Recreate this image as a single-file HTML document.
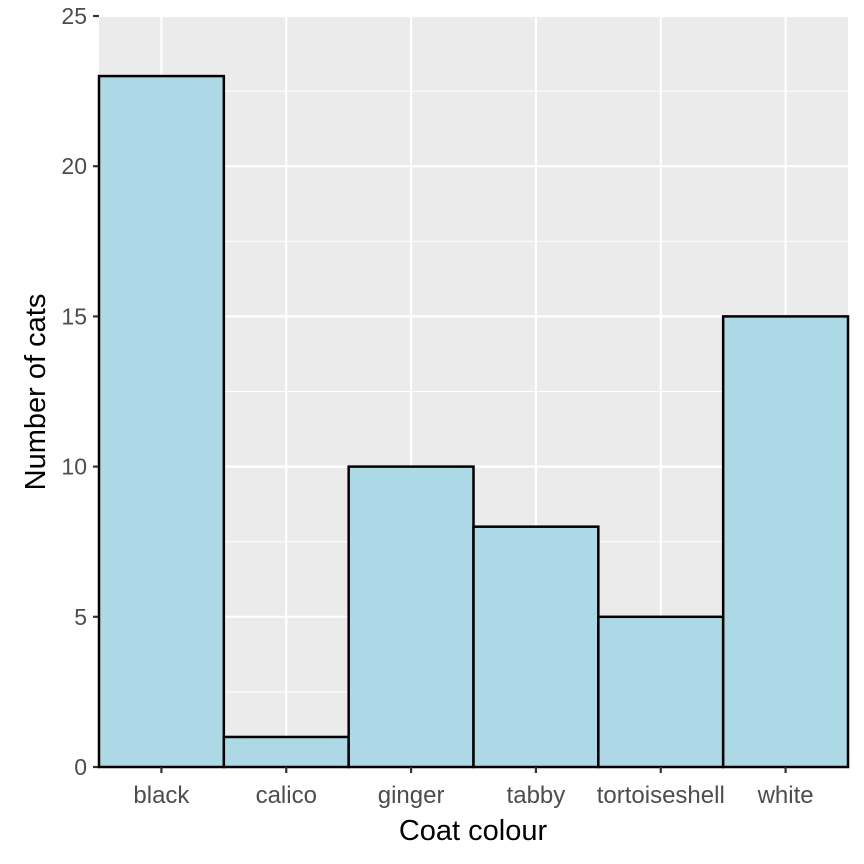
<!DOCTYPE html>
<html><head><meta charset="utf-8"><style>
body{margin:0;background:#fff;}
svg{display:block;font-family:"Liberation Sans",Arial,sans-serif;}
</style></head><body>
<svg id="chart" width="864" height="864" viewBox="0 0 864 864">
<rect x="0" y="0" width="864" height="864" fill="#fff"/>
<g id="panel"></g>
<text x="473" y="840" text-anchor="middle" font-size="29" fill="#000">Coat colour</text>
<text transform="translate(45,392) rotate(-90)" text-anchor="middle" font-size="29" fill="#000">Number of cats</text>
</svg>
<script>
const categories = ["black","calico","ginger","tabby","tortoiseshell","white"];
const counts = [23,1,10,8,5,15];
const yTicks = [0,5,10,15,20,25];
const yMinor = [2.5,7.5,12.5,17.5,22.5];

const L=99,R=848,T=16,B=767,yMax=25;
const bw=(R-L)/categories.length;
const xc=i=>L+bw*(i+0.5);
const y=v=>B-(v/yMax)*(B-T);
const NS="http://www.w3.org/2000/svg";
const g=document.getElementById('panel');
function mk(tag,attrs,parent){const e=document.createElementNS(NS,tag);for(const k in attrs)e.setAttribute(k,attrs[k]);(parent||g).appendChild(e);return e;}

const bg=mk('rect',{x:L,y:T,width:R-L,height:B-T,fill:'#ebebeb'});


yMinor.forEach(v=>{const l=mk('line',{x1:L,x2:R,y1:y(v),y2:y(v),stroke:'#fff','stroke-width':1});

});
yTicks.forEach(v=>{const l=mk('line',{x1:L,x2:R,y1:y(v),y2:y(v),stroke:'#fff','stroke-width':2.2});


const t=mk('line',{x1:L-6,x2:L,y1:y(v),y2:y(v),stroke:'#333','stroke-width':2.2});


const tx=mk('text',{x:L-12,y:y(v)+8,'text-anchor':'end','font-size':23,fill:'#4d4d4d'});tx.textContent=v;

});
categories.forEach((c,i)=>{const l=mk('line',{x1:xc(i),x2:xc(i),y1:T,y2:B,stroke:'#fff','stroke-width':2.2});

});
categories.forEach((c,i)=>{
const r=mk('rect',{x:L+bw*i,y:y(counts[i]),width:bw,height:B-y(counts[i]),fill:'#add8e6',stroke:'#000','stroke-width':2.5});


const t=mk('line',{x1:xc(i),x2:xc(i),y1:B,y2:B+6,stroke:'#333','stroke-width':2.2});


const tx=mk('text',{x:xc(i),y:B+36,'text-anchor':'middle','font-size':24,fill:'#4d4d4d'});tx.textContent=c;


});
</script>
</body></html>
